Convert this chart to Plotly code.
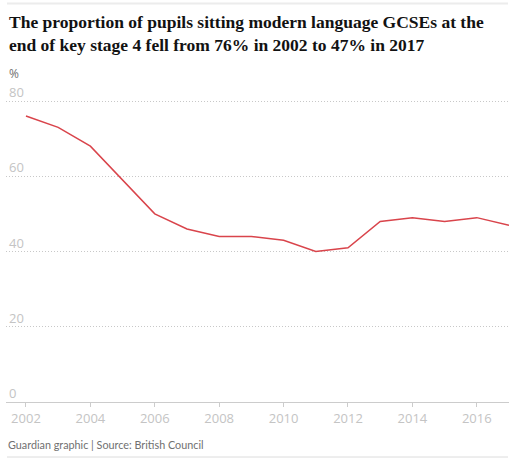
import plotly.graph_objects as go

years = [2002, 2003, 2004, 2005, 2006, 2007, 2008, 2009, 2010, 2011, 2012, 2013, 2014, 2015, 2016, 2017]
pct = [76, 73, 68, 59, 50, 46, 44, 44, 43, 40, 41, 48, 49, 48, 49, 47]
xticks = [2002, 2004, 2006, 2008, 2010, 2012, 2014, 2016]
yticks = [0, 20, 40, 60, 80]

title = ("The proportion of pupils sitting modern language GCSEs at the<br>"
         "end of key stage 4 fell from 76% in 2002 to 47% in 2017")

fig = go.Figure()
fig.add_trace(go.Scatter(x=years, y=pct, mode="lines",
                         line=dict(color="#d9444b", width=1.5),
                         hoverinfo="skip"))

W, H = 526, 460
L, R, T, B = 6, 17, 97, 58
pw, ph = W - L - R, H - T - B
ytop = ph / 3.7625

def px(x):
    return (x - L) / pw

def py(y):
    return (H - B - y) / ph

annotations = [
    dict(text=str(v), x=px(7), y=v, xref="paper", yref="y",
         xanchor="left", yanchor="bottom", yshift=-2, showarrow=False,
         font=dict(family="Open Sans", size=13, color="#c4c4c4"))
    for v in yticks
]
annotations += [
    dict(text=title, x=px(7), y=py(10), xref="paper", yref="paper",
         xanchor="left", yanchor="top", align="left", showarrow=False,
         font=dict(family="Liberation Serif", size=17.5, color="#121212",
                   weight="bold")),
    dict(text="%", x=px(7), y=py(73), xref="paper", yref="paper",
         xanchor="left", yanchor="middle", showarrow=False,
         font=dict(family="Open Sans", size=12, color="#707070")),
    dict(text="Guardian graphic | Source: British Council",
         x=px(6), y=py(444), xref="paper", yref="paper",
         xanchor="left", yanchor="middle", showarrow=False,
         font=dict(family="Lato", size=10.8, color="#707070")),
]

fig.update_layout(
    width=W, height=H,
    margin=dict(l=L, r=R, t=T, b=B),
    paper_bgcolor="white", plot_bgcolor="white",
    showlegend=False,
    font=dict(family="Open Sans", color="#bdbdbd", size=13),
    xaxis=dict(range=[2001.38, 2017.0], tickvals=xticks,
               ticktext=[str(v) for v in xticks],
               showgrid=False, zeroline=False,
               showline=True, linecolor="#cccccc", linewidth=1,
               ticks="outside", ticklen=4, tickcolor="#cccccc",
               tickfont=dict(family="Open Sans", size=13, color="#c4c4c4"),
               fixedrange=True),
    yaxis=dict(range=[0, ytop], tickvals=yticks,
               showticklabels=False,
               showgrid=True, gridcolor="#c8c8c8", griddash="1px,2px", gridwidth=1,
               zeroline=False, showline=False,
               fixedrange=True),
    annotations=annotations,
    shapes=[
        dict(type="line", xref="paper", yref="paper",
             x0=px(7), x1=px(508), y0=py(3.5), y1=py(3.5),
             line=dict(color="#ececec", width=2)),
        dict(type="line", xref="paper", yref="paper",
             x0=px(7), x1=px(508), y0=py(457), y1=py(457),
             line=dict(color="#dcdcdc", width=1)),
    ],
)

fig.write_html("out.html", config={"displayModeBar": False},
               post_script="document.body.style.margin='0';")
